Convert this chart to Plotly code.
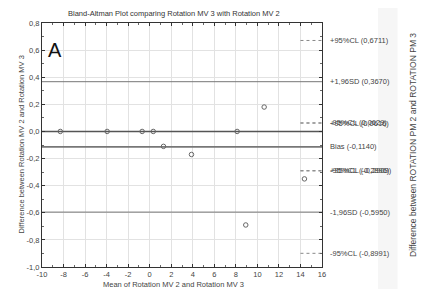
import plotly.graph_objects as go

# Data
means = [-8.3, -3.95, -0.7, 0.33, 1.28, 3.88, 8.12, 8.92, 10.63, 14.37]
diffs = [0.0, 0.0, 0.0, 0.0, -0.11, -0.17, 0.0, -0.69, 0.18, -0.35]

solid_vals = [0.3670, -0.1140, -0.5950]
solid_labels = ["+1,96SD (0,3670)", "Bias (-0,1140)", "-1,96SD (-0,5950)"]
cl_vals = [0.6711, 0.0629, 0.0616, -0.2896, -0.2909, -0.8991]
cl_labels = ["+95%CL (0,6711)", "-95%CL (0,0629)", "+95%CL (0,0616)",
             "-95%CL (-0,2896)", "+95%CL (-0,2909)", "-95%CL (-0,8991)"]

x_ticks = list(range(-10, 17, 2))
x_ticktext = [str(v) for v in x_ticks]
y_ticks = [-1.0, -0.8, -0.6, -0.4, -0.2, 0.0, 0.2, 0.4, 0.6, 0.8]
y_ticktext = ["-1,0", "-0,8", "-0,6", "-0,4", "-0,2", "0,0", "0,2", "0,4", "0,6", "0,8"]

XMIN, XMAX = -10, 16
CL_X0 = 14

txt = "#444444"
font = "Liberation Sans, Arial, sans-serif"

fig = go.Figure()

# zero line
fig.add_trace(go.Scatter(x=[XMIN, XMAX], y=[0, 0], mode="lines",
                         line=dict(color="#555555", width=1.6), hoverinfo="skip", showlegend=False))
for v in solid_vals:
    w = 1.6 if abs(v + 0.114) < 1e-6 else 1.0
    fig.add_trace(go.Scatter(x=[XMIN, XMAX], y=[v, v], mode="lines",
                             line=dict(color="#777777", width=w), hoverinfo="skip", showlegend=False))
for v in cl_vals:
    fig.add_trace(go.Scatter(x=[CL_X0, XMAX], y=[v, v], mode="lines",
                             line=dict(color="#888888", width=1, dash="dot"), hoverinfo="skip", showlegend=False))

fig.add_trace(go.Scatter(x=means, y=diffs, mode="markers",
                         marker=dict(symbol="circle-open", size=4.5, color="#666666", line=dict(width=1, color="#666666")),
                         showlegend=False))

annotations = []
LX = 1.021
for v, t in zip(solid_vals + cl_vals, solid_labels + cl_labels):
    annotations.append(dict(x=LX, y=v, xref="paper", yref="y", text=t, showarrow=False,
                            xanchor="left", yanchor="middle", font=dict(size=7.5, color=txt, family=font)))

annotations.append(dict(x=0.5 - 0.03, y=1.0, xref="paper", yref="paper", yanchor="bottom", yshift=3,
                        text="Bland-Altman Plot comparing Rotation MV 3 with Rotation MV 2", showarrow=False,
                        font=dict(size=7.5, color="#333333", family=font)))
annotations.append(dict(x=-9.6, y=0.6, xref="x", yref="y", text="A", showarrow=False, xanchor="left",
                        font=dict(size=20, color="#111111", family=font)))
annotations.append(dict(x=-0.1, y=0.5, xref="paper", yref="paper", text="Difference between Rotation MV 2 and Rotation MV 3",
                        textangle=-90, showarrow=False, font=dict(size=7.5, color=txt, family=font)))
annotations.append(dict(x=0.47, y=-0.098, xref="paper", yref="paper", text="Mean of Rotation MV 2 and Rotation MV 3",
                        showarrow=False, font=dict(size=7.5, color=txt, family=font)))
annotations.append(dict(x=1.35, y=0.5, xref="paper", yref="paper", text="Difference between ROTATION PM 2 and ROTATION PM 3",
                        textangle=-90, showarrow=False, font=dict(size=8.5, color=txt, family=font)))

fig.update_layout(
    width=426, height=289,
    margin=dict(l=34, r=112, t=15, b=30),
    paper_bgcolor="white", plot_bgcolor="white",
    annotations=annotations,
    shapes=[dict(type="rect", xref="paper", yref="paper", x0=1.2, x1=1.27, y0=-0.2, y1=1.1,
                 fillcolor="#f6f6f6", line=dict(width=0), layer="below")],
    xaxis=dict(range=[XMIN, XMAX], tickvals=x_ticks, ticktext=x_ticktext, showgrid=True, gridcolor="#e2e2e2",
               zeroline=False, showline=True, linecolor="#333333", linewidth=1, mirror="ticks",
               ticks="inside", ticklen=3, tickcolor="#333333",
               tickfont=dict(size=7.5, color=txt, family=font),
               minor=dict(ticks="inside", ticklen=2, dtick=1, tickcolor="#666666")),
    yaxis=dict(range=[-1.0, 0.8], tickvals=y_ticks, ticktext=y_ticktext, showgrid=True, gridcolor="#e2e2e2",
               zeroline=False, showline=True, linecolor="#333333", linewidth=1, mirror="ticks",
               ticks="inside", ticklen=3, tickcolor="#333333",
               tickfont=dict(size=7.5, color=txt, family=font),
               minor=dict(ticks="inside", ticklen=2, dtick=0.1, tickcolor="#666666")),
)

fig.write_html("out.html")
